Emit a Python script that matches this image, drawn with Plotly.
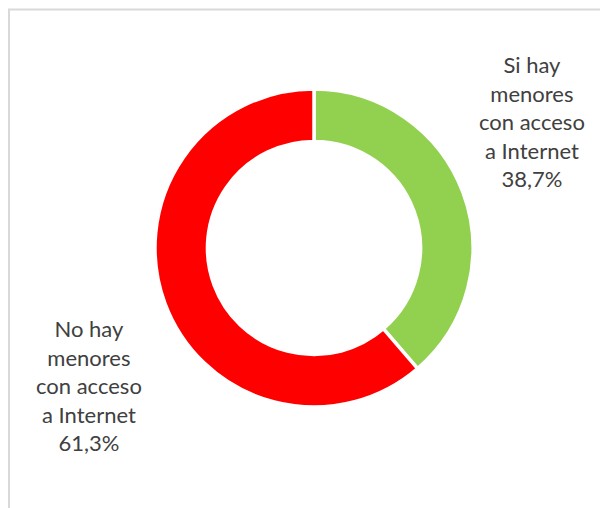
import plotly.graph_objects as go

categories = ["Si hay menores con acceso a Internet", "No hay menores con acceso a Internet"]
label_lines = [["Si hay", "menores", "con acceso", "a Internet"], ["No hay", "menores", "con acceso", "a Internet"]]
values = [38.7, 61.3]
colors = ["#92D050", "#FF0000"]

# page has 8px body margin, so figure coordinates = page coordinates - 8
W, H = 600, 500
cx, cy, r = 306, 240, 159

fig = go.Figure(go.Pie(
    labels=categories,
    values=values,
    sort=False,
    direction="clockwise",
    rotation=0,
    hole=0.67,
    marker=dict(colors=colors, line=dict(color="white", width=3.5)),
    textinfo="none",
    hoverinfo="label+percent",
    showlegend=False,
    domain=dict(x=[(cx - r) / W, (cx + r) / W], y=[(H - cy - r) / H, (H - cy + r) / H]),
))

label_pos = [(524, 114), (81, 377)]
for lines, v, (lx, ly) in zip(label_lines, values, label_pos):
    txt = "<br>".join(lines + [f"{v:.1f}%".replace(".", ",")])
    fig.add_annotation(
        x=lx / W, y=(H - ly) / H, xref="paper", yref="paper",
        text=txt, showarrow=False, align="center",
        xanchor="center", yanchor="middle",
        font=dict(family="Lato", size=22, color="#404040"),
    )

fig.add_shape(type="rect", xref="paper", yref="paper",
              x0=1 / W, x1=1.1, y0=-0.1, y1=(H - 1.5) / H,
              line=dict(color="#D9D9D9", width=2), fillcolor="rgba(0,0,0,0)")

fig.update_layout(
    width=W, height=H,
    margin=dict(l=0, r=0, t=0, b=0),
    paper_bgcolor="white", plot_bgcolor="white",
)

fig.write_html("out.html")
